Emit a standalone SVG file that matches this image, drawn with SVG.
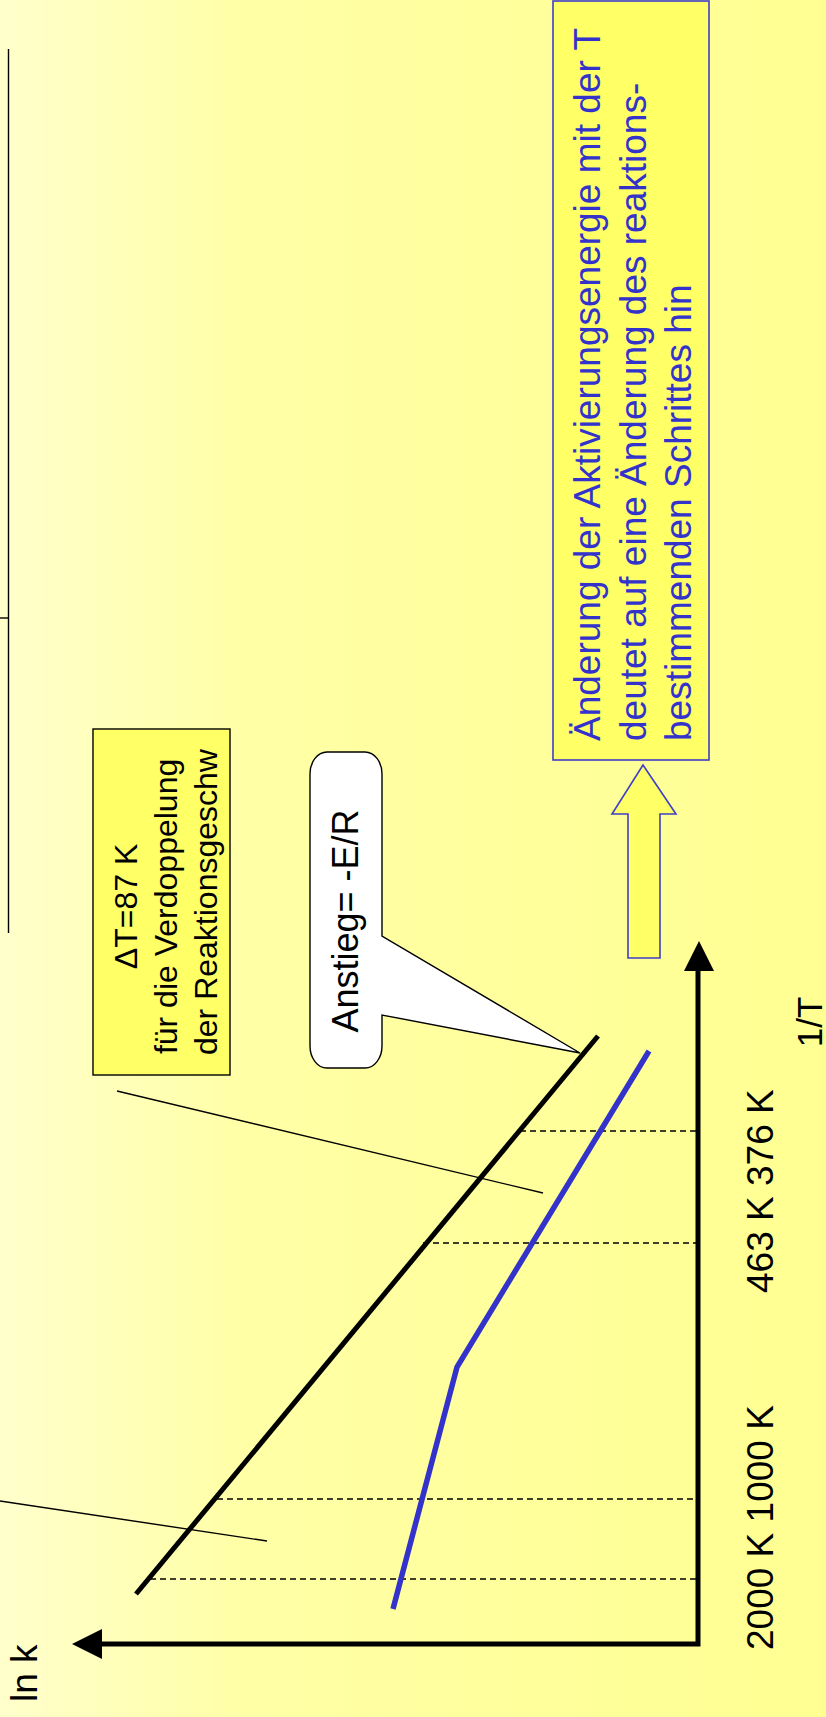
<svg xmlns="http://www.w3.org/2000/svg" width="826" height="1717" viewBox="0 0 826 1717">
<defs>
<linearGradient id="bg" x1="0" y1="0" x2="1" y2="0">
<stop offset="0" stop-color="#FFFFCC"/>
<stop offset="0.3" stop-color="#FFFFA6"/>
<stop offset="1" stop-color="#FFFF92"/>
</linearGradient>
<style>
.t{font-family:"Liberation Sans",Arial,sans-serif;}
.thin{stroke:#000;stroke-width:1.4;fill:none;}
.dash{stroke:#000;stroke-width:1.6;stroke-dasharray:6 4;fill:none;}
.axis{stroke:#000;stroke-width:5;fill:none;}
</style>
</defs>
<rect width="826" height="1717" fill="url(#bg)"/>

<g id="frame-line">
<line class="thin" x1="8.5" y1="49" x2="8.5" y2="933"/>
<line class="thin" x1="0" y1="618" x2="8.5" y2="618"/>
</g>

<g id="info-box">
<rect x="553" y="1" width="156" height="759" fill="#FFFF66" stroke="#3F3FC8" stroke-width="1.6"/>
<text class="t" font-size="37" fill="#3333CC" transform="translate(600,741) rotate(-90)">
<tspan x="0" y="0">Änderung der Aktivierungsenergie mit der T</tspan>
<tspan x="0" y="45.5">deutet auf eine Änderung des reaktions-</tspan>
<tspan x="0" y="91">bestimmenden Schrittes hin</tspan>
</text>
</g>

<g id="block-arrow">
<path d="M643,765 L676,814 L660,814 L660,958 L628,958 L628,814 L612,814 Z" fill="#FFFF66" stroke="#3F3FC8" stroke-width="1.6"/>
</g>

<g id="dT-box">
<rect x="93" y="729" width="137" height="346" fill="#FFFF66" stroke="#000" stroke-width="1.4"/>
<text class="t" font-size="32" fill="#000" text-anchor="middle" transform="translate(137,902) rotate(-90)">
<tspan x="0" y="0">ΔT=87 K</tspan>
<tspan x="0" y="40">für die Verdoppelung</tspan>
<tspan x="0" y="80">der Reaktionsgeschw</tspan>
</text>
</g>

<g id="slope-callout">
<path d="M327,752 H365 A17,22 0 0 1 382,774 V936 L580,1053 L382,1015 V1046 A17,22 0 0 1 365,1068 H327 A17,22 0 0 1 310,1046 V774 A17,22 0 0 1 327,752 Z" fill="#FFFFFF" stroke="#000" stroke-width="1.4"/>
<text class="t" font-size="36" fill="#000" text-anchor="middle" transform="translate(358,921) rotate(-90)">Anstieg= -E/R</text>
</g>

<g id="connectors">
<line class="dash" x1="520" y1="1131" x2="698" y2="1131"/>
<line class="dash" x1="423" y1="1243" x2="698" y2="1243"/>
<line class="dash" x1="217" y1="1499" x2="698" y2="1499"/>
<line class="dash" x1="150" y1="1579" x2="698" y2="1579"/>
<line class="thin" x1="117" y1="1091" x2="543" y2="1193"/>
<line class="thin" x1="0" y1="1501" x2="267" y2="1541"/>
<line x1="598" y1="1036" x2="136" y2="1594" stroke="#000" stroke-width="5"/>
<polyline points="649,1051 457,1367 393,1609" fill="none" stroke="#3333CC" stroke-width="5.5"/>
</g>

<g id="axes">
<polyline class="axis" points="102,1644 698,1644 698,968"/>
<path d="M699,941 L714,971 L684,971 Z" fill="#000"/>
<path d="M72,1644 L102,1629 L102,1659 Z" fill="#000"/>
</g>

<g id="labels" class="t" fill="#000">
<text font-size="35" text-anchor="middle" transform="translate(822,1022) rotate(-90)">1/T</text>
<text font-size="37" transform="translate(773,1293) rotate(-90)">463 K 376 K</text>
<text font-size="37" transform="translate(773,1650) rotate(-90)">2000 K 1000 K</text>
<text font-size="37" transform="translate(37,1702) rotate(-90)">ln k</text>
</g>
</svg>
